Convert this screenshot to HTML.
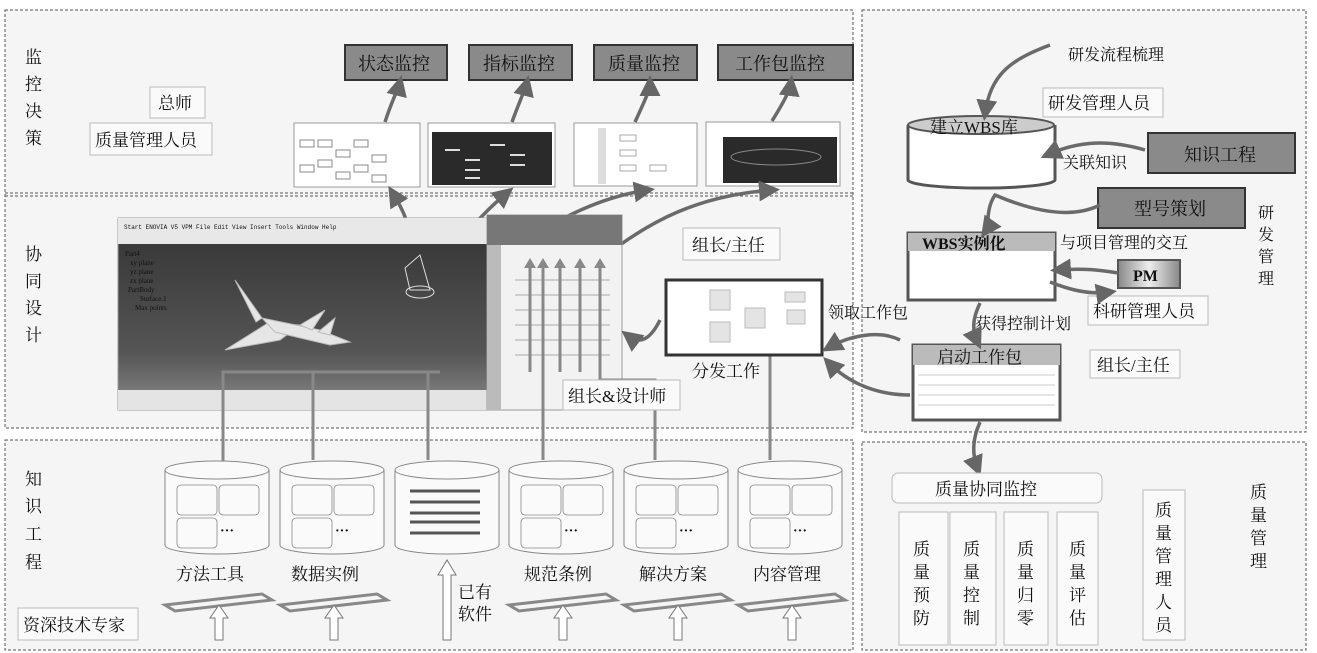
<!DOCTYPE html>
<html><head><meta charset="utf-8"><style>
html,body{margin:0;padding:0;background:#fff;}
svg{display:block;}
text{font-family:"Liberation Serif","Noto Serif CJK SC",serif;fill:#111;}
</style></head><body>
<svg width="1317" height="653" viewBox="0 0 1317 653" xmlns="http://www.w3.org/2000/svg">
<defs>
<marker id="ah" markerWidth="6" markerHeight="6" refX="4" refY="3" orient="auto" markerUnits="strokeWidth"><path d="M0,0 L6,3 L0,6 z" fill="#666"/></marker>
<linearGradient id="cad" x1="0" y1="0" x2="0" y2="1"><stop offset="0" stop-color="#333"/><stop offset="0.7" stop-color="#555"/><stop offset="1" stop-color="#8a8a8a"/></linearGradient>
<linearGradient id="pm" x1="0" y1="0" x2="1" y2="0"><stop offset="0" stop-color="#888"/><stop offset="0.5" stop-color="#eee"/><stop offset="1" stop-color="#888"/></linearGradient>
</defs>
<rect x="5" y="10" width="848" height="418" fill="#f5f5f5" stroke="#555" stroke-dasharray="3,2"/>
<line x1="5" y1="193" x2="853" y2="193" stroke="#555" stroke-dasharray="3,2"/>
<line x1="5" y1="196" x2="853" y2="196" stroke="#555" stroke-dasharray="3,2"/>
<rect x="5" y="440" width="848" height="210" fill="#f5f5f5" stroke="#555" stroke-dasharray="3,2"/>
<rect x="862" y="10" width="444" height="422" fill="#f5f5f5" stroke="#555" stroke-dasharray="3,2"/>
<rect x="862" y="442" width="444" height="208" fill="#f5f5f5" stroke="#555" stroke-dasharray="3,2"/>

<g font-size="17">
<text x="25" y="63">监</text><text x="25" y="90">控</text><text x="25" y="117">决</text><text x="25" y="144">策</text>
<text x="25" y="260">协</text><text x="25" y="287">同</text><text x="25" y="314">设</text><text x="25" y="341">计</text>
<text x="25" y="485">知</text><text x="25" y="512">识</text><text x="25" y="540">工</text><text x="25" y="568">程</text>
</g>
<rect x="150" y="87" width="55" height="31" fill="#fafafa" stroke="#bbb"/><text x="158" y="109" font-size="17">总师</text>
<rect x="90" y="123" width="122" height="32" fill="#fafafa" stroke="#bbb"/><text x="95" y="146" font-size="17">质量管理人员</text>

<g font-size="18">
<rect x="345" y="45" width="102" height="35" fill="#8a8a8a" stroke="#333" stroke-width="2"/><text x="358" y="70">状态监控</text>
<rect x="469" y="45" width="103" height="35" fill="#8a8a8a" stroke="#333" stroke-width="2"/><text x="483" y="70">指标监控</text>
<rect x="594" y="45" width="103" height="35" fill="#8a8a8a" stroke="#333" stroke-width="2"/><text x="608" y="70">质量监控</text>
<rect x="718" y="45" width="135" height="35" fill="#8a8a8a" stroke="#333" stroke-width="2"/><text x="735" y="70">工作包监控</text>
</g>
<rect x="294" y="123" width="126" height="64" fill="#fff" stroke="#999"/>
<g stroke="#888" fill="none"><rect x="300" y="140" width="14" height="7"/><rect x="318" y="140" width="14" height="7"/><rect x="336" y="150" width="14" height="7"/><rect x="354" y="140" width="14" height="7"/><rect x="372" y="155" width="14" height="7"/><rect x="300" y="165" width="14" height="7"/><rect x="336" y="172" width="14" height="7"/><rect x="372" y="175" width="14" height="7"/><rect x="318" y="160" width="14" height="7"/><rect x="354" y="165" width="14" height="7"/></g>
<rect x="428" y="123" width="127" height="64" fill="#fff" stroke="#999"/><rect x="432" y="132" width="120" height="53" fill="#2a2a2a"/>
<g stroke="#ddd" stroke-width="2"><line x1="445" y1="150" x2="460" y2="150"/><line x1="465" y1="160" x2="480" y2="160"/><line x1="490" y1="145" x2="505" y2="145"/><line x1="510" y1="155" x2="525" y2="155"/><line x1="465" y1="170" x2="480" y2="170"/><line x1="510" y1="165" x2="525" y2="165"/><line x1="465" y1="178" x2="480" y2="178"/></g>
<rect x="574" y="123" width="123" height="63" fill="#fff" stroke="#999"/><rect x="598" y="128" width="8" height="56" fill="#ddd"/>
<g stroke="#aaa" fill="none"><rect x="620" y="135" width="16" height="6"/><rect x="620" y="150" width="16" height="6"/><rect x="620" y="165" width="16" height="6"/><rect x="650" y="165" width="16" height="6"/></g>
<rect x="706" y="122" width="134" height="64" fill="#fff" stroke="#999"/><rect x="723" y="137" width="114" height="46" fill="#2a2a2a"/><ellipse cx="776" cy="157" rx="45" ry="8" fill="none" stroke="#888"/>

<g stroke="#6a6a6a" stroke-width="3.5" fill="none" marker-end="url(#ah)">
<path d="M385,122 C392,100 398,90 400,82"/>
<path d="M512,122 C520,100 525,90 527,82"/>
<path d="M635,122 C645,100 650,90 650,82"/>
<path d="M772,121 C785,100 790,90 791,82"/>
<path d="M412,252 C410,220 400,205 392,192"/>
<path d="M440,268 C460,240 480,215 508,192"/>
<path d="M470,285 C520,240 580,200 648,190"/>
<path d="M600,260 C650,220 700,195 773,190"/>
</g>

<rect x="118" y="218" width="370" height="192" fill="url(#cad)" stroke="#999"/>
<rect x="118" y="218" width="370" height="26" fill="#e8e8e8"/>
<text x="124" y="229" font-size="6" style="font-family:'Liberation Mono',monospace">Start  ENOVIA V5 VPM  File  Edit  View  Insert  Tools  Window  Help</text>
<rect x="118" y="390" width="370" height="20" fill="#e4e4e4"/>
<g font-size="7" style="font-family:'Liberation Mono',monospace"><text x="125" y="256" fill="#eee">Part4</text><text x="130" y="265" fill="#eee">xy plane</text><text x="130" y="274" fill="#eee">yz plane</text><text x="130" y="283" fill="#eee">zx plane</text><text x="128" y="292" fill="#eee">PartBody</text><text x="140" y="301" fill="#eee">Surface.1</text><text x="135" y="310" fill="#eee">Max points</text></g>
<g fill="#e6e6e6" stroke="#bbb">
<path d="M235,280 L262,318 L256,322 z"/>
<path d="M225,350 L268,323 L300,325 L280,340 z"/>
<path d="M262,318 L320,330 L350,342 L330,345 L275,332 z"/>
<path d="M300,325 L325,310 L312,330 z"/>
<path d="M318,332 L335,318 L330,335 z"/>
</g>
<path d="M405,268 L420,255 L430,290 L410,290 z" fill="none" stroke="#ddd"/>
<ellipse cx="420" cy="292" rx="14" ry="6" fill="none" stroke="#ddd"/>
<rect x="487" y="215" width="135" height="195" fill="#f2f2f2" stroke="#999"/>
<rect x="487" y="215" width="135" height="30" fill="#777"/>
<rect x="487" y="245" width="14" height="165" fill="#bbb"/>
<g stroke="#aaa"><line x1="515" y1="280" x2="610" y2="280"/><line x1="515" y1="295" x2="610" y2="295"/><line x1="515" y1="310" x2="610" y2="310"/><line x1="515" y1="325" x2="610" y2="325"/><line x1="515" y1="340" x2="610" y2="340"/><line x1="515" y1="355" x2="610" y2="355"/></g>

<g stroke="#888" stroke-width="3" fill="none">
<path d="M223,505 L223,372 L440,372"/>
<path d="M313,460 L313,372"/>
<path d="M428,460 L428,372"/>
<path d="M543,460 L543,265"/>
<path d="M655,460 L655,380 L600,380 L600,265"/>
<path d="M770,460 L770,355"/>
<path d="M530,372 L530,265"/><path d="M560,372 L560,265"/><path d="M580,372 L580,265"/>
</g>
<g fill="#888"><path d="M524,268 L530,258 L536,268 z"/><path d="M537,268 L543,258 L549,268 z"/><path d="M554,268 L560,258 L566,268 z"/><path d="M574,268 L580,258 L586,268 z"/><path d="M594,268 L600,258 L606,268 z"/></g>

<rect x="683" y="228" width="97" height="32" fill="#fafafa" stroke="#bbb"/><text x="692" y="251" font-size="17">组长/主任</text>
<rect x="666" y="280" width="156" height="75" fill="#fff" stroke="#333" stroke-width="3"/>
<g fill="#e4e4e4" stroke="#bbb"><rect x="710" y="290" width="20" height="20"/><rect x="745" y="308" width="20" height="20"/><rect x="710" y="322" width="20" height="20"/><rect x="785" y="292" width="20" height="10"/><rect x="787" y="310" width="18" height="14"/></g>
<text x="692" y="377" font-size="17">分发工作</text>
<rect x="563" y="380" width="117" height="30" fill="#fafafa" stroke="#bbb"/><text x="568" y="402" font-size="17">组长&amp;设计师</text>
<text x="828" y="318" font-size="16">领取工作包</text>
<g stroke="#6a6a6a" stroke-width="3.5" fill="none" marker-end="url(#ah)">
<path d="M660,320 C650,340 640,345 627,335"/>
<path d="M900,340 C880,330 850,335 828,348"/>
<path d="M910,395 C880,395 850,385 828,362"/>
</g>

<g stroke="#888" fill="#fafafa">
<path d="M165,470 L165,545 A52,9 0 0 0 269,545 L269,470"/><ellipse cx="217" cy="470" rx="52" ry="9"/>
<path d="M280,470 L280,545 A52,9 0 0 0 384,545 L384,470"/><ellipse cx="332" cy="470" rx="52" ry="9"/>
<path d="M395,470 L395,545 A52,9 0 0 0 499,545 L499,470"/><ellipse cx="447" cy="470" rx="52" ry="9"/>
<path d="M509,470 L509,545 A52,9 0 0 0 613,545 L613,470"/><ellipse cx="561" cy="470" rx="52" ry="9"/>
<path d="M624,470 L624,545 A52,9 0 0 0 728,545 L728,470"/><ellipse cx="676" cy="470" rx="52" ry="9"/>
<path d="M738,470 L738,545 A52,9 0 0 0 842,545 L842,470"/><ellipse cx="790" cy="470" rx="52" ry="9"/>
</g>
<g stroke="#888" fill="#fafafa" stroke-width="0.8">
<g transform="translate(165,0)"><rect x="12" y="485" width="40" height="30" rx="4"/><rect x="54" y="485" width="40" height="30" rx="4"/><rect x="12" y="518" width="40" height="30" rx="4"/></g>
<g transform="translate(280,0)"><rect x="12" y="485" width="40" height="30" rx="4"/><rect x="54" y="485" width="40" height="30" rx="4"/><rect x="12" y="518" width="40" height="30" rx="4"/></g>
<g transform="translate(509,0)"><rect x="12" y="485" width="40" height="30" rx="4"/><rect x="54" y="485" width="40" height="30" rx="4"/><rect x="12" y="518" width="40" height="30" rx="4"/></g>
<g transform="translate(624,0)"><rect x="12" y="485" width="40" height="30" rx="4"/><rect x="54" y="485" width="40" height="30" rx="4"/><rect x="12" y="518" width="40" height="30" rx="4"/></g>
<g transform="translate(738,0)"><rect x="12" y="485" width="40" height="30" rx="4"/><rect x="54" y="485" width="40" height="30" rx="4"/><rect x="12" y="518" width="40" height="30" rx="4"/></g>
</g>
<g font-size="14" font-weight="bold"><text x="220" y="535">···</text><text x="335" y="535">···</text><text x="564" y="535">···</text><text x="679" y="535">···</text><text x="793" y="535">···</text></g>
<g stroke="#555" stroke-width="3"><line x1="410" y1="491" x2="480" y2="491"/><line x1="410" y1="502" x2="480" y2="502"/><line x1="410" y1="513" x2="480" y2="513"/><line x1="410" y1="522" x2="480" y2="522"/><line x1="410" y1="533" x2="480" y2="533"/></g>
<g font-size="17"><text x="176" y="580">方法工具</text><text x="291" y="580">数据实例</text><text x="524" y="580">规范条例</text><text x="639" y="580">解决方案</text><text x="753" y="580">内容管理</text><text x="458" y="598">已有</text><text x="458" y="620">软件</text></g>
<g fill="none" stroke="#888" stroke-width="3">
<path d="M165,605 L262,594 L272,600 L175,611 z"/><path d="M280,605 L377,594 L387,600 L290,611 z"/>
<path d="M509,605 L606,594 L616,600 L519,611 z"/><path d="M624,605 L721,594 L731,600 L634,611 z"/><path d="M738,605 L835,594 L845,600 L748,611 z"/>
</g>
<g fill="#fff" stroke="#777">
<path d="M215,640 L215,618 L210,618 L219,605 L228,618 L223,618 L223,640 z"/>
<path d="M330,640 L330,618 L325,618 L334,605 L343,618 L338,618 L338,640 z"/>
<path d="M443,640 L443,575 L438,575 L447,560 L456,575 L451,575 L451,640 z"/>
<path d="M559,640 L559,618 L554,618 L563,605 L572,618 L567,618 L567,640 z"/>
<path d="M674,640 L674,618 L669,618 L678,605 L687,618 L682,618 L682,640 z"/>
<path d="M788,640 L788,618 L783,618 L792,605 L801,618 L796,618 L796,640 z"/>
</g>
<rect x="18" y="608" width="120" height="32" fill="#fafafa" stroke="#bbb"/><text x="23" y="631" font-size="17">资深技术专家</text>

<text x="1068" y="60" font-size="16">研发流程梳理</text>
<rect x="1043" y="88" width="120" height="29" fill="#fafafa" stroke="#bbb"/><text x="1048" y="109" font-size="17">研发管理人员</text>
<path d="M908,125 L908,180 A73,8 0 0 0 1055,180 L1055,125" fill="#fff" stroke="#555" stroke-width="3"/>
<ellipse cx="981" cy="125" rx="73" ry="9" fill="#ccc" stroke="#555" stroke-width="2"/>
<text x="930" y="133" font-size="17">建立WBS库</text>
<rect x="1148" y="133" width="147" height="40" fill="#8a8a8a" stroke="#333" stroke-width="2"/><text x="1184" y="161" font-size="18">知识工程</text>
<text x="1063" y="168" font-size="16">关联知识</text>
<rect x="1098" y="188" width="147" height="40" fill="#8a8a8a" stroke="#333" stroke-width="2"/><text x="1134" y="215" font-size="18">型号策划</text>
<g font-size="16"><text x="1258" y="218">研</text><text x="1258" y="240">发</text><text x="1258" y="262">管</text><text x="1258" y="284">理</text></g>
<rect x="908" y="233" width="147" height="67" fill="#fff" stroke="#555" stroke-width="3"/><rect x="908" y="233" width="147" height="18" fill="#bbb"/>
<text x="922" y="249" font-size="16" font-weight="bold">WBS实例化</text>
<text x="1060" y="248" font-size="16">与项目管理的交互</text>
<rect x="1118" y="260" width="62" height="28" fill="url(#pm)" stroke="#555" stroke-width="2"/><text x="1133" y="281" font-size="16" font-weight="bold">PM</text>
<rect x="1088" y="296" width="120" height="29" fill="#fafafa" stroke="#bbb"/><text x="1093" y="317" font-size="17">科研管理人员</text>
<text x="975" y="329" font-size="16">获得控制计划</text>
<rect x="913" y="345" width="147" height="75" fill="#fff" stroke="#555" stroke-width="3"/><rect x="913" y="345" width="147" height="20" fill="#bbb"/>
<text x="937" y="363" font-size="17">启动工作包</text>
<g stroke="#ccc"><line x1="918" y1="375" x2="1055" y2="375"/><line x1="918" y1="385" x2="1055" y2="385"/><line x1="918" y1="395" x2="1055" y2="395"/><line x1="918" y1="405" x2="1055" y2="405"/></g>
<rect x="1090" y="350" width="90" height="28" fill="#fafafa" stroke="#bbb"/><text x="1097" y="371" font-size="17">组长/主任</text>
<g stroke="#6a6a6a" stroke-width="3.5" fill="none" marker-end="url(#ah)">
<path d="M1050,45 C1010,60 990,75 985,114"/>
<path d="M1145,150 C1110,140 1080,140 1047,155"/>
<path d="M1100,205 C1070,220 1030,210 995,195 C985,210 990,225 985,232"/>
<path d="M1118,273 C1100,270 1085,268 1057,270"/>
<path d="M1050,282 C1070,290 1090,295 1110,292"/>
<path d="M980,303 C972,320 972,330 978,343"/>
<path d="M980,422 C972,440 972,455 978,470"/>
</g>

<rect x="892" y="473" width="210" height="30" rx="6" fill="#fafafa" stroke="#bbb"/><text x="935" y="495" font-size="17">质量协同监控</text>
<g fill="#fafafa" stroke="#bbb"><rect x="899" y="512" width="49" height="133"/><rect x="950" y="512" width="46" height="133"/><rect x="1004" y="512" width="44" height="133"/><rect x="1057" y="512" width="41" height="133"/><rect x="1143" y="490" width="42" height="150"/></g>
<g font-size="17">
<text x="913" y="555">质</text><text x="913" y="578">量</text><text x="913" y="601">预</text><text x="913" y="624">防</text>
<text x="963" y="555">质</text><text x="963" y="578">量</text><text x="963" y="601">控</text><text x="963" y="624">制</text>
<text x="1017" y="555">质</text><text x="1017" y="578">量</text><text x="1017" y="601">归</text><text x="1017" y="624">零</text>
<text x="1069" y="555">质</text><text x="1069" y="578">量</text><text x="1069" y="601">评</text><text x="1069" y="624">估</text>
<text x="1155" y="516">质</text><text x="1155" y="539">量</text><text x="1155" y="562">管</text><text x="1155" y="585">理</text><text x="1155" y="608">人</text><text x="1155" y="631">员</text>
<text x="1250" y="498">质</text><text x="1250" y="521">量</text><text x="1250" y="544">管</text><text x="1250" y="567">理</text>
</g>
</svg>
</body></html>
